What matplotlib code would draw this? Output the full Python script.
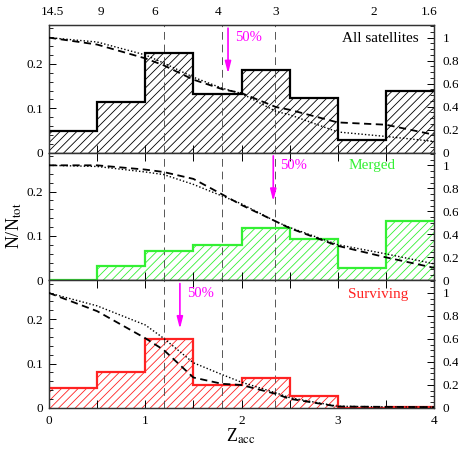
import numpy as np
import matplotlib
matplotlib.use('Agg')
import matplotlib.pyplot as plt
from matplotlib.ticker import MultipleLocator, FixedLocator

plt.rcParams['font.family'] = ['Liberation Serif', 'DejaVu Serif']
plt.rcParams['mathtext.fontset'] = 'stix'
plt.rcParams['hatch.linewidth'] = 0.6

# ---------------- data ----------------
bin_edges = [0.0, 0.5, 1.0, 1.5, 2.0, 2.5, 3.0, 3.5, 4.0]
all_frac = [0.048, 0.114, 0.224, 0.133, 0.186, 0.124, 0.028, 0.138]
merged_frac = [0.0, 0.032, 0.066, 0.080, 0.119, 0.094, 0.027, 0.133]
surv_frac = [0.045, 0.080, 0.156, 0.051, 0.067, 0.026, 0.001, 0.003]

curve_z = [0.0, 0.5, 1.0, 1.19, 1.5, 1.8, 2.0, 2.36, 2.5, 3.0, 3.5, 4.0]
all_dashed = [1.0, 0.94, 0.82, 0.76, 0.635, 0.552, 0.518, 0.396, 0.373, 0.263, 0.243, 0.156]
all_dotted = [1.0, 0.962, 0.85, 0.78, 0.656, 0.56, 0.515, 0.358, 0.33, 0.18, 0.141, 0.098]
merged_dashed = [1.0, 1.0, 0.963, 0.942, 0.882, 0.747, 0.655, 0.511, 0.454, 0.30, 0.20, 0.109]
merged_dotted = [1.0, 0.99, 0.942, 0.92, 0.834, 0.733, 0.665, 0.51, 0.46, 0.31, 0.23, 0.144]
surv_dashed = [1.0, 0.842, 0.607, 0.506, 0.265, 0.21, 0.2, 0.122, 0.08, 0.013, 0.01, 0.008]
surv_dotted = [1.0, 0.888, 0.722, 0.607, 0.393, 0.29, 0.224, 0.131, 0.09, 0.015, 0.01, 0.008]

half_z = [1.86, 2.33, 1.36]          # 50% arrows
vlines_z = [1.19, 1.80, 2.35]        # vertical dashed lines
age_labels = ['14.5', '9', '6', '4', '3', '2', '1.6']
age_z = [0.038, 0.54, 1.094, 1.759, 2.358, 3.369, 3.95]

panel_names = ['All satellites', 'Merged', 'Surviving']
panel_colors = ['black', '#33f033', '#ff2222']
hists = [all_frac, merged_frac, surv_frac]
dashed = [all_dashed, merged_dashed, surv_dashed]
dotted = [all_dotted, merged_dotted, surv_dotted]

# ---------------- figure ----------------
fig = plt.figure(figsize=(4.58, 4.58), dpi=100)
gs = fig.add_gridspec(3, 1, left=49/458, right=434/458, bottom=1-408/458,
                      top=1-25/458, hspace=0)
FS = 9.5
for i in range(3):
    ax = fig.add_subplot(gs[i])
    col = panel_colors[i]
    vals = hists[i]
    ext = list(vals) + [vals[-1]]
    ax.fill_between(bin_edges, ext, step='post', facecolor='none',
                    edgecolor=col, hatch='////', linewidth=0)
    ax.stairs(vals, bin_edges, color=col, lw=1.6, baseline=None, zorder=3)
    for vz in vlines_z:
        ax.axvline(vz, color='#555555', lw=0.7, ls=(0, (8, 5)), zorder=1)
    ax.set_xlim(0, 4)
    ax.set_ylim(0, 0.2876)
    ax.yaxis.set_major_locator(FixedLocator([0, 0.1, 0.2]))
    ax.yaxis.set_minor_locator(MultipleLocator(0.02))
    ax.set_yticklabels(['0', '0.1', '0.2'], fontsize=FS)
    ax.xaxis.set_major_locator(MultipleLocator(1))
    ax.xaxis.set_minor_locator(MultipleLocator(0.5))
    ax.tick_params(axis='x', which='both', direction='in', top=True, bottom=True,
                   length=5.5, width=0.7, labelsize=FS, pad=5)
    ax.tick_params(axis='y', which='major', direction='in', length=5, width=0.7, pad=4)
    ax.tick_params(axis='y', which='minor', direction='in', length=2.8, width=0.6)
    if i < 2:
        ax.tick_params(axis='x', labelbottom=False)
    else:
        ax.set_xticks([0, 1, 2, 3, 4])
        ax.set_xticklabels(['0', '1', '2', '3', '4'])
    for s in ax.spines.values():
        s.set_linewidth(0.9)
        s.set_color('#333333')

    axr = ax.twinx()
    axr.set_ylim(0, 1.110)
    axr.plot(curve_z, dashed[i], color='black', lw=1.3, ls=(0, (4, 2.5)), zorder=4)
    axr.plot(curve_z, dotted[i], color='black', lw=1.0, ls=(0, (1, 1.5)), zorder=4)
    axr.yaxis.set_major_locator(FixedLocator([0, 0.2, 0.4, 0.6, 0.8, 1.0]))
    axr.yaxis.set_minor_locator(MultipleLocator(0.05))
    axr.set_yticklabels(['0', '0.2', '0.4', '0.6', '0.8', '1'], fontsize=FS)
    axr.tick_params(axis='y', which='major', direction='in', length=5, width=0.7, pad=6)
    axr.tick_params(axis='y', which='minor', direction='in', length=2.8, width=0.6)
    for s in axr.spines.values():
        s.set_linewidth(0.9)
        s.set_color('#333333')

    # 50% arrow
    ax.annotate('', xy=(half_z[i], 0.62), xytext=(half_z[i], 0.975),
                xycoords=('data', 'axes fraction'), textcoords=('data', 'axes fraction'),
                arrowprops=dict(arrowstyle='-|>,head_length=0.7,head_width=0.18',
                                color='#ff00ff', lw=1.2, shrinkA=0, shrinkB=0),
                zorder=5)
    ax.text(half_z[i] + 0.07, 0.9, '50%', color='#ff00ff', fontsize=10.5,
            transform=ax.get_xaxis_transform(), ha='left', va='center')

    if i == 0:
        ax.text(0.961, 0.898, panel_names[i], color=col, fontsize=11,
                transform=ax.transAxes, ha='right', va='center')
        axt = ax.twiny()
        axt.set_xlim(0, 4)
        axt.set_xticks(age_z)
        axt.set_xticklabels(age_labels, fontsize=FS)
        axt.tick_params(axis='x', length=0, pad=5)
        for s in axt.spines.values():
            s.set_visible(False)
    else:
        ax.text(0.777, 0.898 if i == 1 else 0.89, panel_names[i], color=col,
                fontsize=11, transform=ax.transAxes, ha='left', va='center')

fig.text(14/458, 1-226/458, r'N/N$_{\rm tot}$', rotation=90, fontsize=13,
         ha='center', va='center')
fig.text(241/458, 1-436/458, r'Z$_{\rm acc}$', fontsize=13, ha='center', va='center')

fig.savefig('out.png', dpi=100)
